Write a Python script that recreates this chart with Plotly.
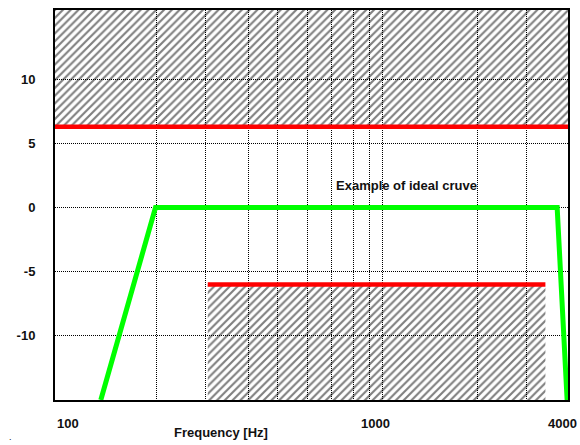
import math
import plotly.graph_objects as go

# ---- data ----
y_min, y_max = -15, 15.4
x_min, x_max = 100, 4000

# ideal curve (green)
ideal_freq = [139, 206, 3700, 3975]
ideal_db = [-15, 0, 0, -15]

# upper limit (red) and its hatched region
upper_freq = [100, 4000]
upper_db = [6.3, 6.3]

# lower limit (red) and its hatched region
lower_freq = [300, 3400]
lower_db = [-6, -6]

# grid line frequencies and y ticks
grid_freq = [208, 296, 401, 494, 613, 729, 854, 958, 1052, 2084, 2964]
y_ticks = [-10, -5, 0, 5, 10]
x_labels = [100, 1000, 4000]

FONT = "Liberation Sans, Arial, sans-serif"

fig = go.Figure()

pattern = dict(shape="/", fgcolor="black", bgcolor="rgba(255,255,255,0)",
               size=5.5, solidity=0.38)

# upper hatched region
fig.add_trace(go.Scatter(
    x=[upper_freq[0], upper_freq[1], upper_freq[1], upper_freq[0]],
    y=[upper_db[0], upper_db[1], y_max, y_max],
    fill="toself", fillcolor="rgba(0,0,0,0)", fillpattern=pattern,
    line=dict(width=0), mode="lines", hoverinfo="skip", showlegend=False))

# lower hatched region
fig.add_trace(go.Scatter(
    x=[lower_freq[0], lower_freq[1], lower_freq[1], lower_freq[0]],
    y=[lower_db[0], lower_db[1], y_min, y_min],
    fill="toself", fillcolor="rgba(0,0,0,0)", fillpattern=pattern,
    line=dict(width=0), mode="lines", hoverinfo="skip", showlegend=False))

# red limit lines
fig.add_trace(go.Scatter(x=upper_freq, y=upper_db, mode="lines",
                         line=dict(color="#ff0000", width=4.5), showlegend=False))
fig.add_trace(go.Scatter(x=lower_freq, y=lower_db, mode="lines",
                         line=dict(color="#ff0000", width=4.5), showlegend=False))

# green ideal curve
fig.add_trace(go.Scatter(x=ideal_freq, y=ideal_db, mode="lines",
                         line=dict(color="#00ff00", width=5), showlegend=False))

fig.update_xaxes(
    type="log", range=[math.log10(x_min), math.log10(x_max)],
    tickvals=grid_freq, showticklabels=False, ticks="",
    showgrid=True, gridcolor="#000000", gridwidth=1.3, griddash="1px,1px",
    showline=True, linecolor="black", linewidth=2, mirror=True,
    zeroline=False)
fig.update_yaxes(
    range=[y_min, y_max], tickvals=y_ticks, ticktext=[str(v) for v in y_ticks],
    ticks="outside", ticklen=15, tickcolor="rgba(0,0,0,0)",
    tickfont=dict(family=FONT, size=13, color="#111111", weight="bold"),
    showgrid=True, gridcolor="#000000", gridwidth=1.3, griddash="1px,1px",
    showline=True, linecolor="black", linewidth=2, mirror=True,
    zeroline=False)

annotations = []
for v in x_labels:
    if v == x_min:
        anchor, shift = "left", 0
    elif v == x_max:
        anchor, shift = "right", 11
    else:
        anchor, shift = "center", 0
    annotations.append(dict(
        x=math.log10(v), xref="x", y=-0.06, yref="paper",
        text=f"<b>{v}</b>", showarrow=False, xshift=shift,
        xanchor=anchor, yanchor="middle",
        font=dict(family=FONT, size=13, color="#111111")))
annotations.append(dict(
    x=0.324, xref="paper", y=-0.084, yref="paper",
    text="<b>Frequency [Hz]</b>", showarrow=False,
    xanchor="center", yanchor="middle",
    font=dict(family=FONT, size=13, color="#111111")))
annotations.append(dict(
    x=0.686, xref="paper", y=0.551, yref="paper",
    text="<b>Example of ideal cruve</b>", showarrow=False,
    xanchor="center", yanchor="middle",
    font=dict(family=FONT, size=13, color="#111111")))
annotations.append(dict(
    x=-0.086, xref="paper", y=-0.095, yref="paper",
    text=".", showarrow=False, xanchor="center", yanchor="middle",
    font=dict(family=FONT, size=9, color="#111111")))

fig.update_layout(
    width=580, height=445,
    margin=dict(l=55, r=12, t=8, b=45),
    plot_bgcolor="white", paper_bgcolor="white",
    annotations=annotations,
    showlegend=False)

fig.write_html("out.html")
